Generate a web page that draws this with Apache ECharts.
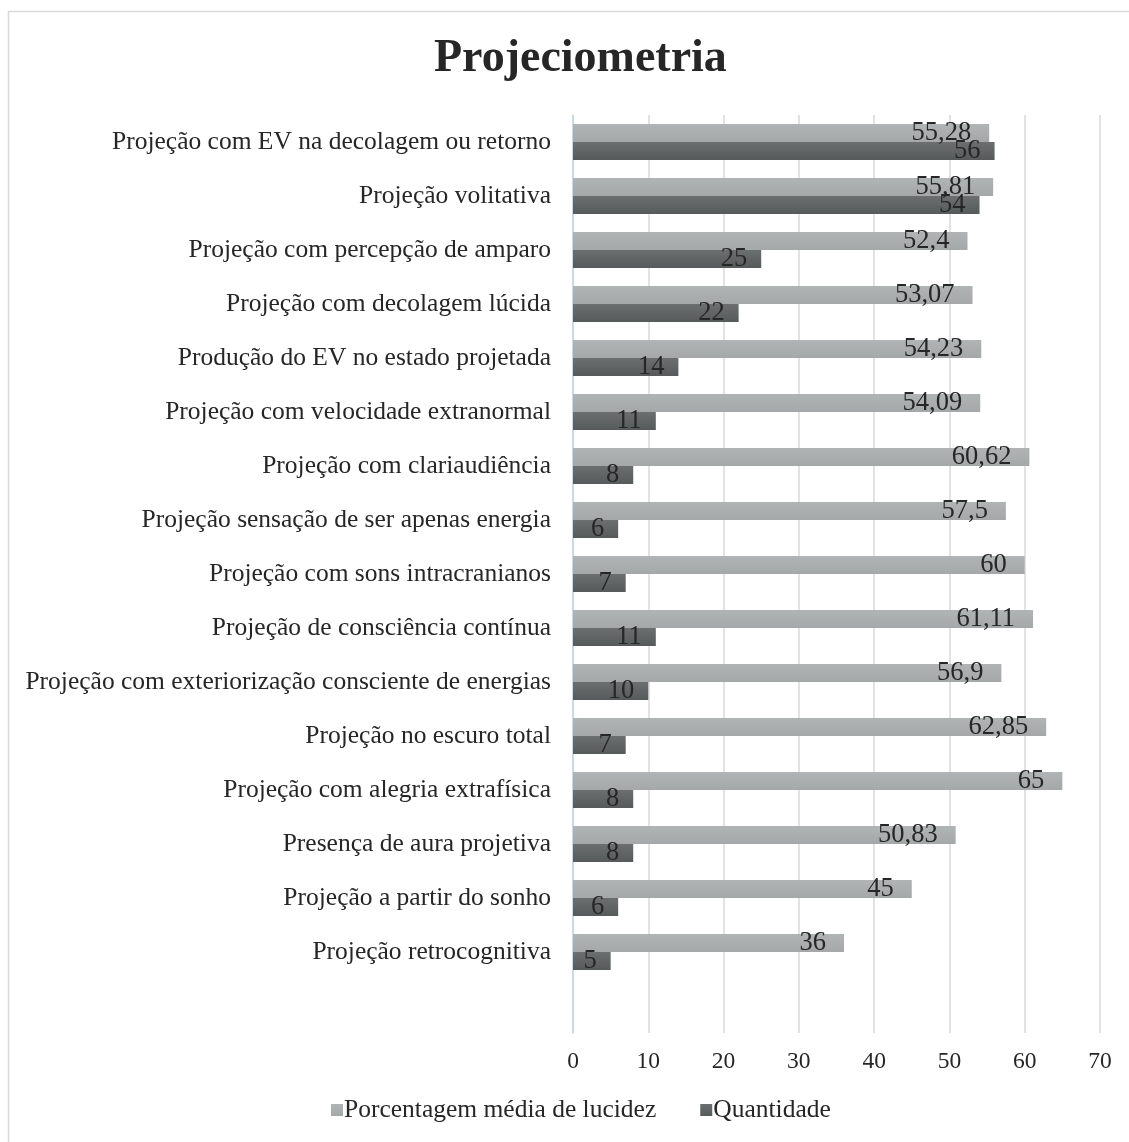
<!DOCTYPE html>
<html><head><meta charset="utf-8">
<script src="https://cdn.jsdelivr.net/npm/echarts@6/dist/echarts.min.js"></script>
<style>html,body{margin:0;padding:0;background:#fff}#c{width:1129px;height:1142px}</style>
</head><body><div id="c"></div>
<script>
const categories = [
  "Projeção com EV na decolagem ou retorno",
  "Projeção volitativa",
  "Projeção com percepção de amparo",
  "Projeção com decolagem lúcida",
  "Produção do EV no estado projetada",
  "Projeção com velocidade extranormal",
  "Projeção com clariaudiência",
  "Projeção sensação de ser apenas energia",
  "Projeção com sons intracranianos",
  "Projeção de consciência contínua",
  "Projeção com exteriorização consciente de energias",
  "Projeção no escuro total",
  "Projeção com alegria extrafísica",
  "Presença de aura projetiva",
  "Projeção a partir do sonho",
  "Projeção retrocognitiva",
  ""
];
const porcentagem = [55.28, 55.81, 52.4, 53.07, 54.23, 54.09, 60.62, 57.5, 60, 61.11, 56.9, 62.85, 65, 50.83, 45, 36, null];
const quantidade = [56, 54, 25, 22, 14, 11, 8, 6, 7, 11, 10, 7, 8, 8, 6, 5, null];
const xTicks = [0, 10, 20, 30, 40, 50, 60, 70];

const FONT = "Liberation Serif";
const chart = echarts.init(document.getElementById('c'), null, {renderer: 'canvas'});
const fmt = p => String(p.value).replace('.', ',');
const lightGrad = new echarts.graphic.LinearGradient(0, 0, 0, 1, [{offset: 0, color: '#B1B4B5'}, {offset: 1, color: '#A5A8A9'}]);
const darkGrad = new echarts.graphic.LinearGradient(0, 0, 0, 1, [{offset: 0, color: '#6C6F70'}, {offset: 1, color: '#575A5B'}]);

chart.setOption({
  backgroundColor: '#fff',
  animation: false,
  graphic: [{type: 'rect', shape: {x: 8.5, y: 11.5, width: 1140, height: 1150}, style: {fill: 'none', stroke: '#D9D9D9', lineWidth: 1.5}, silent: true, z: -10}],
  title: {
    text: 'Projeciometria', left: 429, top: 31,
    textStyle: {fontFamily: FONT, fontWeight: 'bold', fontSize: 46, color: '#262626'}
  },
  legend: {
    bottom: 14, left: 326, itemWidth: 12, itemHeight: 12, itemGap: 44,
    icon: 'rect',
    textStyle: {fontFamily: FONT, fontSize: 25.5, color: '#262626', padding: [0, 0, 0, -4]},
    data: ['Porcentagem média de lucidez', 'Quantidade']
  },
  grid: {left: 573, right: 29, top: 115, bottom: 109, containLabel: false},
  xAxis: {
    type: 'value', min: 0, max: 70, interval: 10,
    axisLine: {show: false}, axisTick: {show: false},
    splitLine: {lineStyle: {color: '#D9D9D9', width: 1.5}},
    axisLabel: {fontFamily: FONT, fontSize: 23.5, color: '#262626', margin: 17,
      formatter: v => xTicks.includes(v) ? String(v) : ''}
  },
  yAxis: {
    type: 'category', data: categories, inverse: true,
    axisLine: {show: true, lineStyle: {color: '#BDD7EE', width: 1.5}},
    axisTick: {show: false},
    axisLabel: {fontFamily: FONT, fontSize: 25.5, color: '#262626', margin: 22}
  },
  series: [
    {
      name: 'Porcentagem média de lucidez', type: 'bar', data: porcentagem,
      barGap: '0%', barCategoryGap: '33%',
      itemStyle: {color: lightGrad},
      label: {show: true, position: 'insideRight', distance: 18, formatter: fmt,
        fontFamily: FONT, fontSize: 26.5, color: '#262626'}
    },
    {
      name: 'Quantidade', type: 'bar', data: quantidade,
      barGap: '0%', barCategoryGap: '33%',
      itemStyle: {color: darkGrad},
      label: {show: true, position: 'insideRight', distance: 14, formatter: fmt,
        fontFamily: FONT, fontSize: 26.5, color: '#262626'}
    }
  ]
});
</script></body></html>
